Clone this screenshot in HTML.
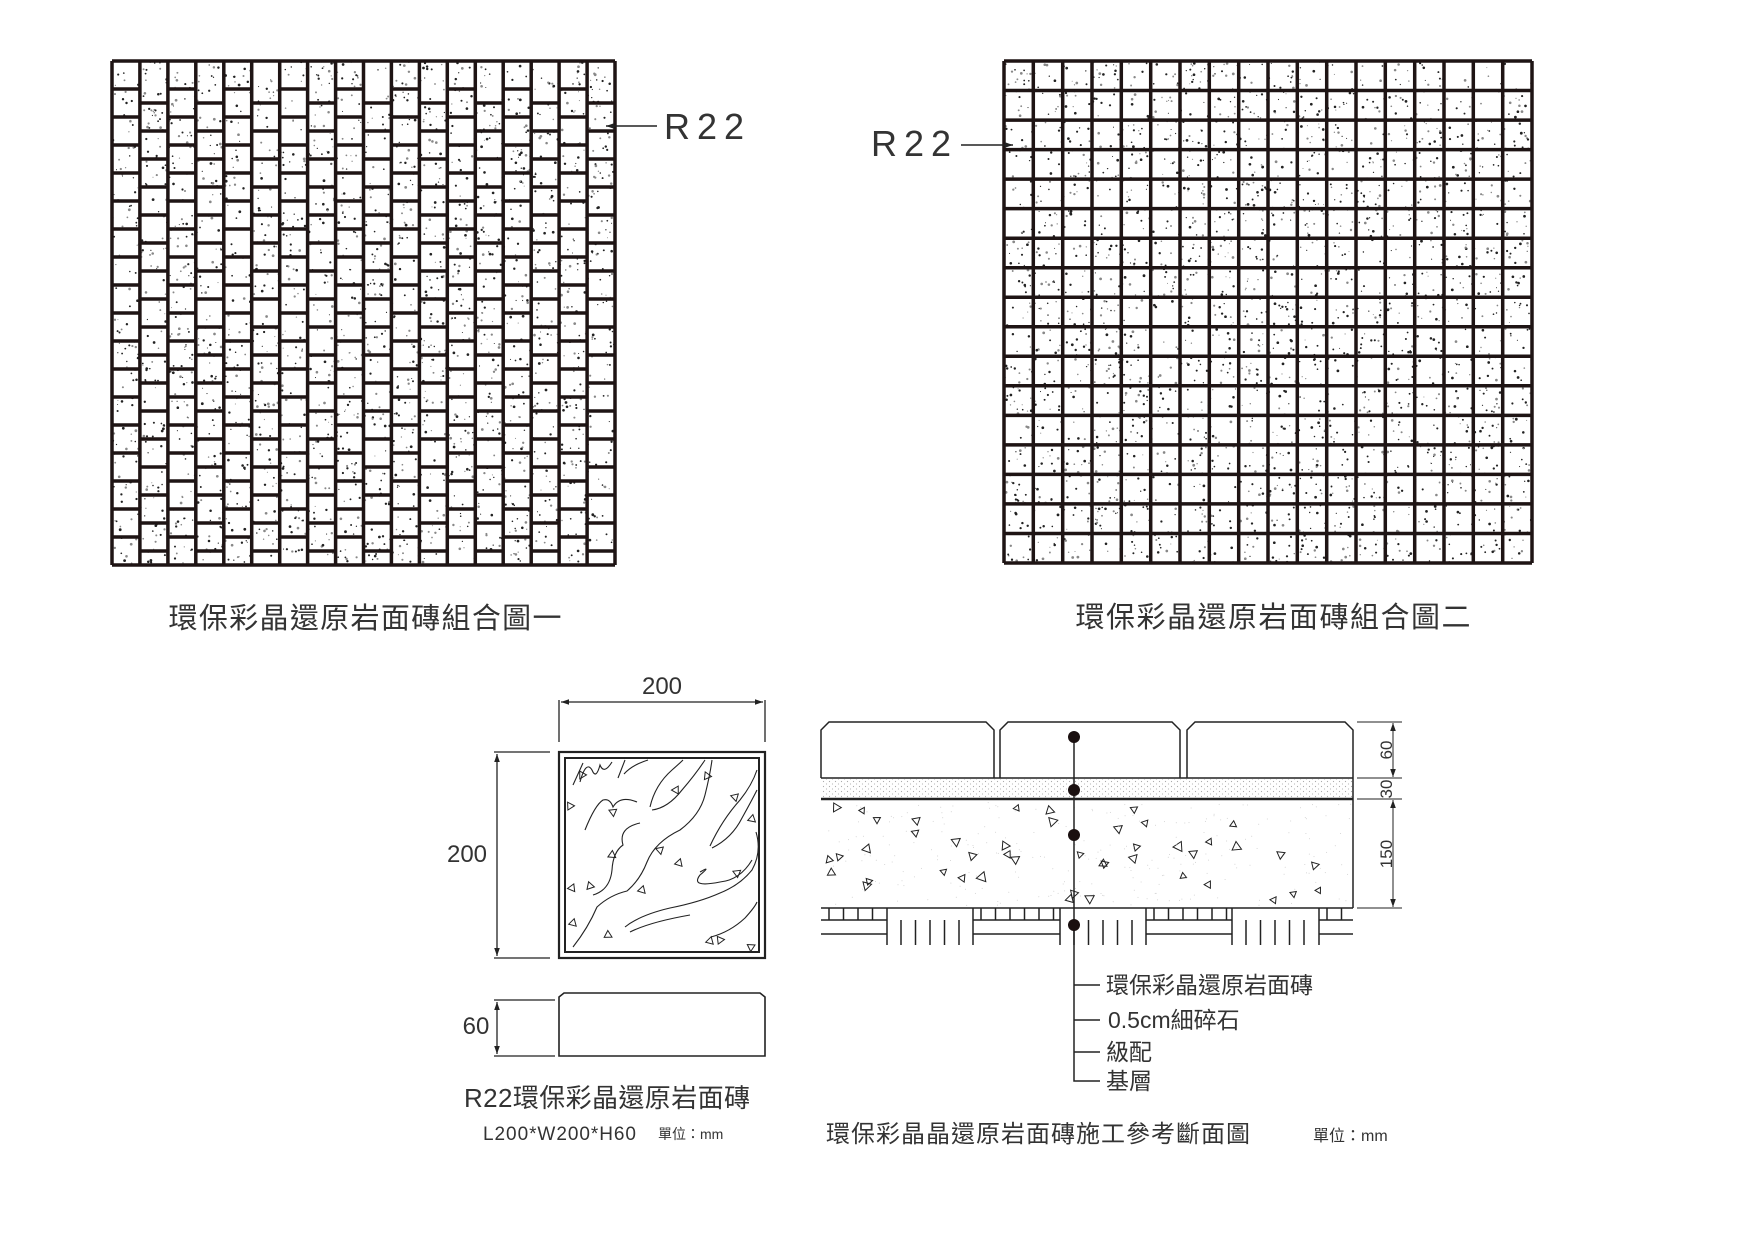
<!DOCTYPE html>
<html><head><meta charset="utf-8">
<style>
html,body{margin:0;padding:0;background:#fff;}
svg{display:block;}
text{font-family:"Liberation Sans","Noto Sans CJK TC",sans-serif;fill:#333;}
</style></head>
<body>
<svg id="s" xmlns="http://www.w3.org/2000/svg" width="1754" height="1240" viewBox="0 0 1754 1240">
<defs>
<pattern id="sand" width="6" height="5" patternUnits="userSpaceOnUse">
<rect width="6" height="5" fill="#fff"/>
<circle cx="1.5" cy="1.5" r="0.6" fill="#aaa"/><circle cx="4.5" cy="4" r="0.6" fill="#bbb"/>
</pattern>
<marker id="ar" viewBox="0 0 10 10" refX="10" refY="5" markerWidth="10" markerHeight="8" orient="auto-start-reverse" markerUnits="userSpaceOnUse"><path d="M0,1.5 L10,5 L0,8.5 z" fill="#222"/></marker>
</defs>
<rect width="1754" height="1240" fill="#fff"/>
<g id="p1"></g>
<g id="p2"></g>

<!-- R22 labels -->
<line x1="657" y1="126" x2="606" y2="126" stroke="#222" stroke-width="1.5" marker-end="url(#ar)"/>
<text x="664" y="139" font-size="36" letter-spacing="7">R22</text>
<text x="871" y="156" font-size="36" letter-spacing="7">R22</text>
<line x1="961" y1="145" x2="1013" y2="145" stroke="#222" stroke-width="1.5" marker-end="url(#ar)"/>

<text x="365" y="628" font-size="29" text-anchor="middle" textLength="393">環保彩晶還原岩面磚組合圖一</text>
<text x="1273" y="627" font-size="29" text-anchor="middle" textLength="395">環保彩晶還原岩面磚組合圖二</text>

<!-- tile plan -->
<g stroke="#222" fill="none">
<line x1="559" y1="700" x2="559" y2="742" stroke-width="1.3"/>
<line x1="765" y1="700" x2="765" y2="742" stroke-width="1.3"/>
<line x1="561" y1="702" x2="763" y2="702" stroke-width="1.3" marker-start="url(#ar)" marker-end="url(#ar)"/>
<line x1="494" y1="752" x2="550" y2="752" stroke-width="1.3"/>
<line x1="494" y1="958" x2="550" y2="958" stroke-width="1.3"/>
<line x1="497" y1="754" x2="497" y2="956" stroke-width="1.3" marker-start="url(#ar)" marker-end="url(#ar)"/>
<rect x="559" y="752" width="206" height="206" stroke-width="2.2"/>
<rect x="565" y="758" width="194" height="194" stroke-width="2"/>
<line x1="494" y1="1000" x2="555" y2="1000" stroke-width="1.3"/>
<line x1="494" y1="1056" x2="555" y2="1056" stroke-width="1.3"/>
<line x1="497" y1="1002" x2="497" y2="1054" stroke-width="1.3" marker-start="url(#ar)" marker-end="url(#ar)"/>
<path d="M559,1056 L559,997 L564,993 L760,993 L765,997 L765,1056 Z" stroke-width="1.6"/>
<g stroke-width="1.1">
<path d="M573,785 L583,763 M580,782 Q586,760 592,770 Q596,780 600,765 Q604,775 612,762 M618,778 L625,760 M624,774 Q632,765 648,760"/>
<path d="M585,830 Q595,805 603,800 Q610,798 613,807 Q620,795 637,802"/>
<path d="M593,895 Q610,890 612,870 Q613,852 623,845 Q618,828 640,823"/>
<path d="M573,947 Q588,928 597,907 Q610,895 627,891 Q640,880 647,862 Q655,842 680,830 Q700,815 705,795 Q710,775 712,760"/>
<path d="M650,807 Q655,785 672,770 Q680,763 683,760 M652,810 Q668,808 682,790 Q695,775 705,760"/>
<path d="M625,927 Q640,915 670,908 Q700,902 720,893 Q740,885 752,870 Q762,852 756,832"/>
<path d="M752,860 Q740,880 720,882 Q690,888 700,875 Q712,865 700,872"/>
<path d="M630,932 Q650,922 690,915"/>
<path d="M710,846 Q722,820 740,800 Q752,785 757,770 M712,848 Q732,838 742,818 Q752,800 757,790"/>
<path d="M711,937 Q730,932 745,918 Q755,907 757,902"/>
</g>
<g stroke-width="1" id="tri1"></g>
</g>
<text x="662" y="694" font-size="24" text-anchor="middle">200</text>
<text x="467" y="862" font-size="24" text-anchor="middle">200</text>
<text x="476" y="1034" font-size="24" text-anchor="middle">60</text>
<text x="607" y="1107" font-size="26" text-anchor="middle" textLength="286">R22環保彩晶還原岩面磚</text>
<text x="483" y="1140" font-size="19" textLength="153">L200*W200*H60</text>
<text x="658" y="1139" font-size="14">單位：mm</text>

<!-- cross section -->
<g stroke="#222" fill="none" stroke-width="1.5">
<path d="M821,778 L821,730 L829,722 L986,722 L994,730 L994,778"/>
<path d="M1000,778 L1000,730 L1008,722 L1172,722 L1180,730 L1180,778"/>
<path d="M1187,778 L1187,730 L1195,722 L1345,722 L1353,730 L1353,778"/>
<rect x="821" y="779" width="532" height="19" fill="url(#sand)" stroke="none"/>
<line x1="821" y1="778" x2="1353" y2="778"/>
<line x1="821" y1="799" x2="1353" y2="799" stroke-width="2.5"/>
<line x1="1353" y1="778" x2="1353" y2="908"/>
<line x1="821" y1="908" x2="1353" y2="908"/>
<g id="sub"></g>
<g id="tri2" stroke-width="1"></g>
<g stroke-width="1">
<line x1="1357" y1="722" x2="1402" y2="722"/><line x1="1357" y1="778" x2="1402" y2="778"/>
<line x1="1357" y1="799" x2="1402" y2="799"/><line x1="1357" y1="908" x2="1402" y2="908"/>
<line x1="1393" y1="723" x2="1393" y2="777" marker-start="url(#ar)" marker-end="url(#ar)"/>
<line x1="1393" y1="800" x2="1393" y2="907" marker-start="url(#ar)" marker-end="url(#ar)"/>
</g>
<path d="M1074,737 L1074,1081 L1100,1081 M1074,985 L1100,985 M1074,1020 L1100,1020 M1074,1052 L1100,1052" stroke-width="1.5"/>
</g>
<g fill="#1a1010"><circle cx="1074" cy="737" r="6"/><circle cx="1074" cy="790" r="6"/><circle cx="1074" cy="835" r="6"/><circle cx="1074" cy="925" r="6"/></g>
<text transform="translate(1392,750) rotate(-90)" font-size="17" text-anchor="middle">60</text>
<text transform="translate(1392,789) rotate(-90)" font-size="17" text-anchor="middle">30</text>
<text transform="translate(1392,854) rotate(-90)" font-size="17" text-anchor="middle">150</text>
<text x="1106" y="993" font-size="23">環保彩晶還原岩面磚</text>
<text x="1108" y="1028" font-size="23">0.5cm細碎石</text>
<text x="1106" y="1060" font-size="23">級配</text>
<text x="1106" y="1089" font-size="23">基層</text>
<text x="826" y="1142" font-size="24" textLength="424">環保彩晶晶還原岩面磚施工參考斷面圖</text>
<text x="1313" y="1141" font-size="16">單位：mm</text>
</svg>
<script>
(function(){
var NS="http://www.w3.org/2000/svg";
var seed=7;function R(){seed=(seed*16807)%2147483647;return (seed-1)/2147483646;}
function el(p,n,a){var e=document.createElementNS(NS,n);for(var k in a)e.setAttribute(k,a[k]);p.appendChild(e);return e;}
function dots(g,x0,y0,w,h,n){for(var i=0;i<n;i++){el(g,"circle",{cx:(x0+R()*w).toFixed(1),cy:(y0+R()*h).toFixed(1),r:(0.5+R()*0.9).toFixed(2),fill:R()<0.6?"#222":"#888"});}}
// panel 1
var g1=document.getElementById("p1");var X=112,Y=61,W=503,H=504,cols=18,cw=W/cols,rh=28;
el(g1,"rect",{x:X,y:Y,width:W,height:H,fill:"#fff"});
dots(g1,X,Y,W,H,2600);
var d="";
for(var c=0;c<=cols;c++){var x=X+c*cw;d+="M"+x.toFixed(1)+","+Y+"V"+(Y+H);}
for(var c=0;c<cols;c++){var off=(c%2)?rh/2:0;for(var y=Y+off+rh;y<Y+H;y+=rh){d+="M"+(X+c*cw).toFixed(1)+","+y.toFixed(1)+"h"+cw.toFixed(1);}}
d+="M"+X+","+Y+"H"+(X+W)+"M"+X+","+(Y+H)+"H"+(X+W);
el(g1,"path",{d:d,stroke:"#1e1414","stroke-width":3.5,fill:"none"});
// panel 2
var g2=document.getElementById("p2");X=1004;Y=61;W=528;H=502;var c2=18,r2=17;
el(g2,"rect",{x:X,y:Y,width:W,height:H,fill:"#fff"});
dots(g2,X,Y,W,H,2800);
d="";for(var c=0;c<=c2;c++){var x=X+c*W/c2;d+="M"+x.toFixed(1)+","+Y+"V"+(Y+H);}
for(var r=0;r<=r2;r++){var y=Y+r*H/r2;d+="M"+X+","+y.toFixed(1)+"H"+(X+W);}
el(g2,"path",{d:d,stroke:"#1e1414","stroke-width":3.5,fill:"none"});
// triangles
function tri(g,x,y,s){var a=R()*6.28;var p=[];for(var i=0;i<3;i++){var t=a+i*2.094;p.push((x+s*Math.cos(t)).toFixed(1)+","+(y+s*Math.sin(t)).toFixed(1));}el(g,"polygon",{points:p.join(" "),fill:"none"});}
var t1=document.getElementById("tri1");
[[582,775],[613,812],[612,855],[590,886],[573,923],[608,935],[642,890],[660,850],[679,863],[676,790],[707,776],[735,797],[752,819],[737,873],[710,941],[720,940],[751,947],[570,806],[572,888]].forEach(function(p){tri(t1,p[0],p[1],4.5);});
var t2=document.getElementById("tri2");
for(var i=0;i<45;i++){tri(t2,826+R()*520,806+R()*95,3.5+R()*2.5);}
for(var i=0;i<250;i++){el(t2,"circle",{cx:(823+R()*528).toFixed(1),cy:(802+R()*104).toFixed(1),r:0.5,fill:"#ccc",stroke:"none"});}
// subgrade
var sg=document.getElementById("sub");d="";
var blocks=[[887,973],[1060,1146],[1232,1319]];
var shorts=[[821,887],[973,1060],[1146,1232],[1319,1353]];
shorts.forEach(function(s){d+="M"+s[0]+",920H"+s[1]+"M"+s[0]+",934H"+s[1];for(var x=s[0]+8;x<=s[1];x+=14.5){d+="M"+x.toFixed(1)+",908V920";}});
blocks.forEach(function(b){d+="M"+b[0]+",908V945M"+b[1]+",908V945";for(var x=b[0]+14;x<b[1]-3;x+=14.5){d+="M"+x.toFixed(1)+",920V945";}});
el(sg,"path",{d:d});
})();
</script>
</body></html>
